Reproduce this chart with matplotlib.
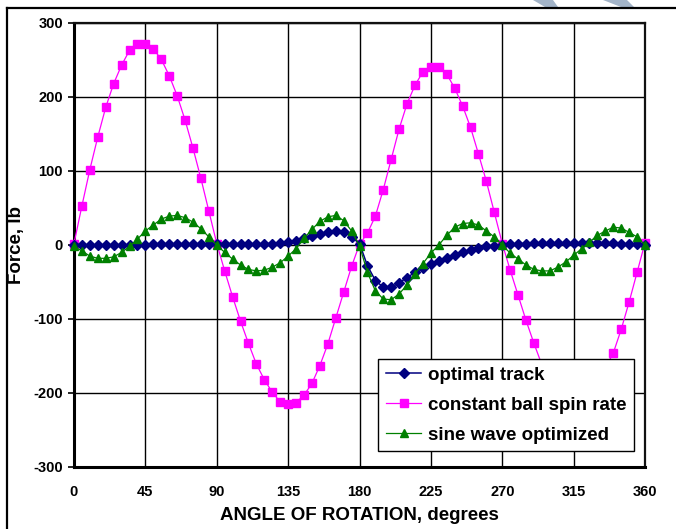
import matplotlib
matplotlib.use("Agg")
import matplotlib.pyplot as plt
from matplotlib.lines import Line2D
from matplotlib.patches import Polygon

plt.rcParams['font.family'] = ['Liberation Sans', 'DejaVu Sans']
plt.rcParams['font.weight'] = 'bold'
plt.rcParams['axes.unicode_minus'] = False

# data, one marker every 5 degrees
angle = list(range(0, 361, 5))

optimal_track = [
    0, 0, 0, 0, 0, 0, 0, 0, 0, 0,
    1, 1, 1, 1, 1, 1, 1, 1, 1, 1,
    1, 1, 1, 1, 2, 2, 3, 4, 6, 9,
    12, 15, 17, 19, 18, 11, 2, -28, -48, -57,
    -57, -51, -44, -37, -31, -26, -21, -17, -13, -10,
    -7, -4, -2, -1, 0, 1, 2, 2, 3, 3,
    3, 3, 3, 3, 3, 3, 3, 3, 3, 2,
    1, 1, 0,
]

constant_spin = [
    2, 53, 102, 146, 186, 218, 243, 263, 271, 271,
    265, 251, 229, 202, 169, 131, 90, 46, 2, -35,
    -70, -103, -133, -161, -182, -199, -212, -215, -213, -203,
    -187, -163, -134, -99, -64, -29, 1, 16, 39, 75,
    116, 157, 191, 216, 234, 241, 240, 231, 212, 188,
    159, 123, 86, 44, 2, -34, -68, -102, -133, -162,
    -183, -198, -207, -209, -205, -195, -182, -166, -146, -114,
    -77, -37, 3,
]

sine_optimized = [
    -2, -8, -15, -18, -18, -16, -10, -2, 8, 19,
    27, 35, 39, 40, 37, 31, 22, 11, 0, -10,
    -19, -27, -33, -35, -34, -30, -24, -15, -5, 9,
    21, 32, 38, 40, 33, 19, -1, -37, -62, -73,
    -74, -66, -54, -39, -25, -11, 0, 13, 24, 29,
    30, 27, 19, 11, 0, -11, -19, -27, -33, -35,
    -35, -30, -23, -14, -5, 4, 13, 19, 24, 23,
    17, 11, 0,
]

x_ticks = list(range(0, 361, 45))
y_ticks = list(range(-300, 301, 100))

W, H = 676, 529
fig = plt.figure(figsize=(W / 100, H / 100), dpi=100)
ax = fig.add_axes([74 / W, 1 - 467 / H, (645 - 74) / W, (467 - 23) / H])

NAVY, MAGENTA, GREEN = "#000080", "#ff00ff", "#008000"

l_pink, = ax.plot(angle, constant_spin, color=MAGENTA, lw=0.9, marker="s", ms=5.4,
                  mfc=MAGENTA, mec=MAGENTA, zorder=3, clip_on=False)
l_blue, = ax.plot(angle, optimal_track, color=NAVY, lw=1.1, marker="D", ms=4.6,
                  mfc=NAVY, mec=NAVY, zorder=4, clip_on=False)
l_green, = ax.plot(angle, sine_optimized, color=GREEN, lw=0.9, marker="^", ms=6.2,
                   mfc=GREEN, mec=GREEN, zorder=5, clip_on=False)

ax.set_xlim(0, 360)
ax.set_ylim(-300, 300)
ax.set_xticks(x_ticks)
ax.set_yticks(y_ticks)
ax.grid(True, color="black", lw=1.0)
ax.set_axisbelow(True)
ax.tick_params(axis="x", length=0, pad=13, labelsize=10.5)
ax.tick_params(axis="y", length=4, width=1.2, pad=4, labelsize=10.5, direction="out")
for lab in ax.get_xticklabels() + ax.get_yticklabels():
    lab.set_fontweight("bold")
for side in ("left", "bottom"):
    ax.spines[side].set_linewidth(2.2)
for side in ("top", "right"):
    ax.spines[side].set_linewidth(1.6)
    ax.spines[side].set_color("#111111")

fig.text(359.5 / W, 1 - 515 / H, "ANGLE OF ROTATION, degrees", ha="center", va="center",
         fontsize=13.5, fontweight="bold")
fig.text(17 / W, 1 - 245 / H, "Force, lb", ha="center", va="center", rotation=90,
         fontsize=13.5, fontweight="bold")

leg = ax.legend([l_blue, l_pink, l_green],
                ["optimal track", "constant ball spin rate", "sine wave optimized"],
                loc="lower right", bbox_to_anchor=(634 / W, 1 - 451 / H),
                bbox_transform=fig.transFigure, borderaxespad=0,
                fancybox=False, framealpha=1, edgecolor="black", numpoints=1,
                handlelength=1.9, handletextpad=0.35, labelspacing=0.68,
                borderpad=0.4, prop={"size": 13.5, "weight": "bold"})
leg.get_frame().set_linewidth(1.0)
leg.set_zorder(10)

# outer chart frame (top and left edges visible)
fr_y = 1 - 8 / H
fr_x = 7 / W
fig.add_artist(Line2D([fr_x, 1.0], [fr_y, fr_y], color="black", lw=1.6,
                      transform=fig.transFigure))
fig.add_artist(Line2D([fr_x, fr_x], [fr_y, 0.0], color="black", lw=1.6,
                      transform=fig.transFigure))

# page background strokes peeking above the frame
for pts in ([(533, 0), (553, 0), (558, 7), (545, 7)],
            [(603, 0), (627, 0), (634, 7), (621, 7)]):
    fig.add_artist(Polygon([(x / W, 1 - y / H) for x, y in pts], closed=True,
                           facecolor="#a3b4c8", edgecolor="none",
                           transform=fig.transFigure))

fig.savefig("out.png", dpi=100)
